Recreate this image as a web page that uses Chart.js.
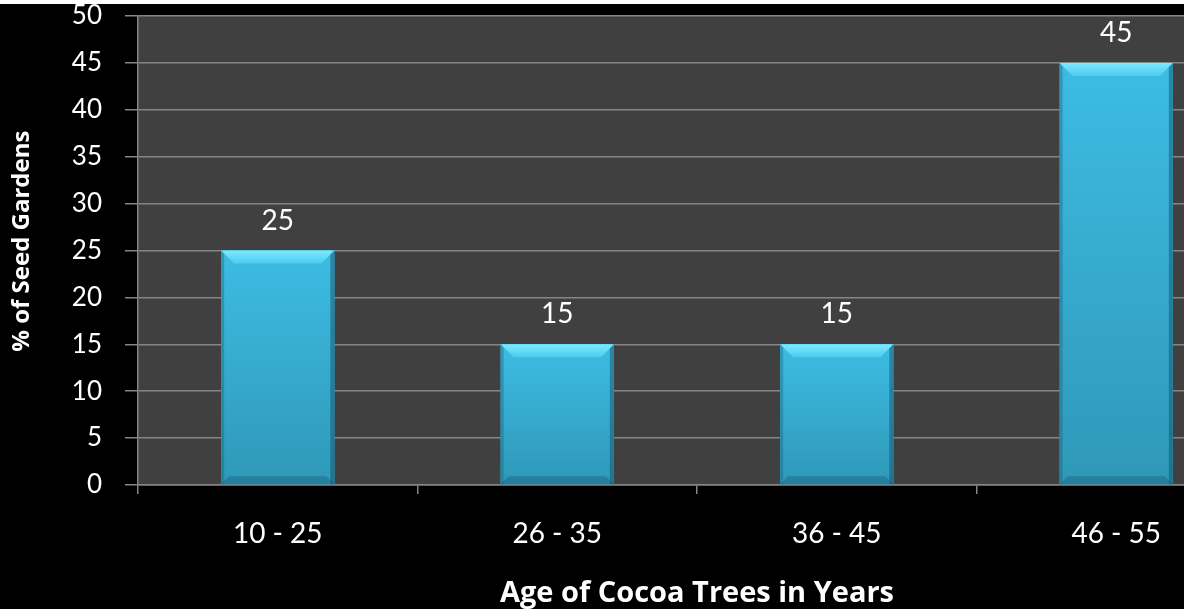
<!DOCTYPE html>
<html>
<head>
<meta charset="utf-8">
<script src="https://cdn.jsdelivr.net/npm/chart.js@4/dist/chart.umd.min.js"></script>
<style>
html, body { margin: 0; padding: 0; background: #000; overflow: hidden; width: 1184px; height: 609px; }
#wrap { position: absolute; left: 0; top: 0; width: 1300px; height: 630px; }
#strip { position: absolute; left: 0; top: 0; width: 1184px; height: 4px; background: #fff; }
</style>
</head>
<body>
<div id="wrap"><canvas id="chart" width="1300" height="630" style="width:1300px;height:630px"></canvas></div>
<div id="strip"></div>
<script>
// Data
const ageGroups = ['10 - 25', '26 - 35', '36 - 45', '46 - 55'];
const seedGardenPct = [25, 15, 15, 45];
const yMin = 0;
const yMax = 50;
const yStep = 5;

const gridGray = '#858585';
const fontFamily = 'Lato, "Open Sans", sans-serif';
const titleFamily = '"Open Sans", Lato, sans-serif';

// Dark grey plot background
const plotBackground = {
    id: 'plotBackground',
    beforeDraw(chart) {
        const { ctx, chartArea: a } = chart;
        ctx.save();
        ctx.fillStyle = '#000';
        ctx.fillRect(0, 0, chart.width, chart.height);
        ctx.fillStyle = '#404040';
        ctx.fillRect(a.left, a.top, a.right - a.left, a.bottom - a.top);
        ctx.restore();
    }
};

// Bevelled look on top of each bar
const bevelBars = {
    id: 'bevelBars',
    afterDatasetsDraw(chart) {
        const ctx = chart.ctx;
        const meta = chart.getDatasetMeta(0);
        meta.data.forEach((bar) => {
            const { x, y, base, width } = bar.getProps(['x', 'y', 'base', 'width'], true);
            const l = x - width / 2;
            const r = x + width / 2;
            const b = 13;
            ctx.save();

            // body
            const body = ctx.createLinearGradient(0, y, 0, base);
            body.addColorStop(0, '#3dbce3');
            body.addColorStop(1, '#2f98b8');
            ctx.fillStyle = body;
            ctx.fillRect(l, y, width, base - y);

            // left / right edges
            ctx.fillStyle = 'rgba(20, 90, 115, 0.35)';
            ctx.fillRect(l, y, 3, base - y);
            ctx.fillStyle = 'rgba(15, 70, 95, 0.45)';
            ctx.fillRect(r - 4, y, 4, base - y);

            // bottom bevel
            ctx.fillStyle = 'rgba(20, 80, 105, 0.35)';
            ctx.beginPath();
            ctx.moveTo(l, base);
            ctx.lineTo(r, base);
            ctx.lineTo(r - 8, base - 8);
            ctx.lineTo(l + 8, base - 8);
            ctx.closePath();
            ctx.fill();

            // top bevel
            const top = ctx.createLinearGradient(0, y, 0, y + b);
            top.addColorStop(0, '#7deaff');
            top.addColorStop(1, '#4ccbef');
            ctx.fillStyle = top;
            ctx.beginPath();
            ctx.moveTo(l, y);
            ctx.lineTo(r, y);
            ctx.lineTo(r - b, y + b);
            ctx.lineTo(l + b, y + b);
            ctx.closePath();
            ctx.fill();

            ctx.restore();
        });
    }
};

// Value labels above the bars
const valueLabels = {
    id: 'valueLabels',
    afterDatasetsDraw(chart) {
        const ctx = chart.ctx;
        const meta = chart.getDatasetMeta(0);
        ctx.save();
        ctx.fillStyle = '#fff';
        ctx.font = '28px ' + fontFamily;
        ctx.textAlign = 'center';
        ctx.textBaseline = 'alphabetic';
        meta.data.forEach((bar, i) => {
            ctx.fillText(String(seedGardenPct[i]), bar.x, bar.y - 21);
        });
        ctx.restore();
    }
};

const canvas = document.getElementById('chart');
new Chart(canvas.getContext('2d'), {
    type: 'bar',
    data: {
        labels: ageGroups,
        datasets: [{
            data: seedGardenPct,
            backgroundColor: '#38b2d8',
            borderWidth: 0,
            categoryPercentage: 1,
            barPercentage: 0.405
        }]
    },
    options: {
        responsive: false,
        animation: false,
        devicePixelRatio: 1,
        layout: { padding: { left: 0, top: 16, right: 44, bottom: 0 } },
        plugins: {
            legend: { display: false },
            tooltip: { enabled: false }
        },
        scales: {
            x: {
                grid: {
                    drawOnChartArea: false,
                    drawTicks: true,
                    tickLength: 9,
                    color: gridGray,
                    lineWidth: 1.5
                },
                border: { color: gridGray, width: 1.5 },
                ticks: {
                    color: '#fff',
                    font: { family: fontFamily, size: 28 },
                    padding: 23,
                    maxRotation: 0
                },
                title: {
                    display: true,
                    text: 'Age of Cocoa Trees in Years',
                    color: '#fff',
                    font: { family: titleFamily, size: 29, weight: 'bold' },
                    padding: { top: 0, bottom: 19 }
                },
                afterFit(scale) { scale.height = 630 - 485; }
            },
            y: {
                min: yMin,
                max: yMax,
                grid: {
                    color: gridGray,
                    lineWidth: 1.5,
                    drawTicks: true,
                    tickLength: 13
                },
                border: { color: gridGray, width: 1.5 },
                ticks: {
                    stepSize: yStep,
                    color: '#fff',
                    font: { family: fontFamily, size: 26 },
                    padding: 23
                },
                title: {
                    display: true,
                    text: '   % of Seed Gardens',
                    color: '#fff',
                    font: { family: titleFamily, size: 24, weight: 'bold' },
                    padding: { top: 8, bottom: 0 }
                },
                afterFit(scale) {
                    scale.width = 138;
                    scale.paddingTop = 0;
                    scale.paddingBottom = 0;
                }
            }
        }
    },
    plugins: [plotBackground, bevelBars, valueLabels]
});
</script>
</body>
</html>
